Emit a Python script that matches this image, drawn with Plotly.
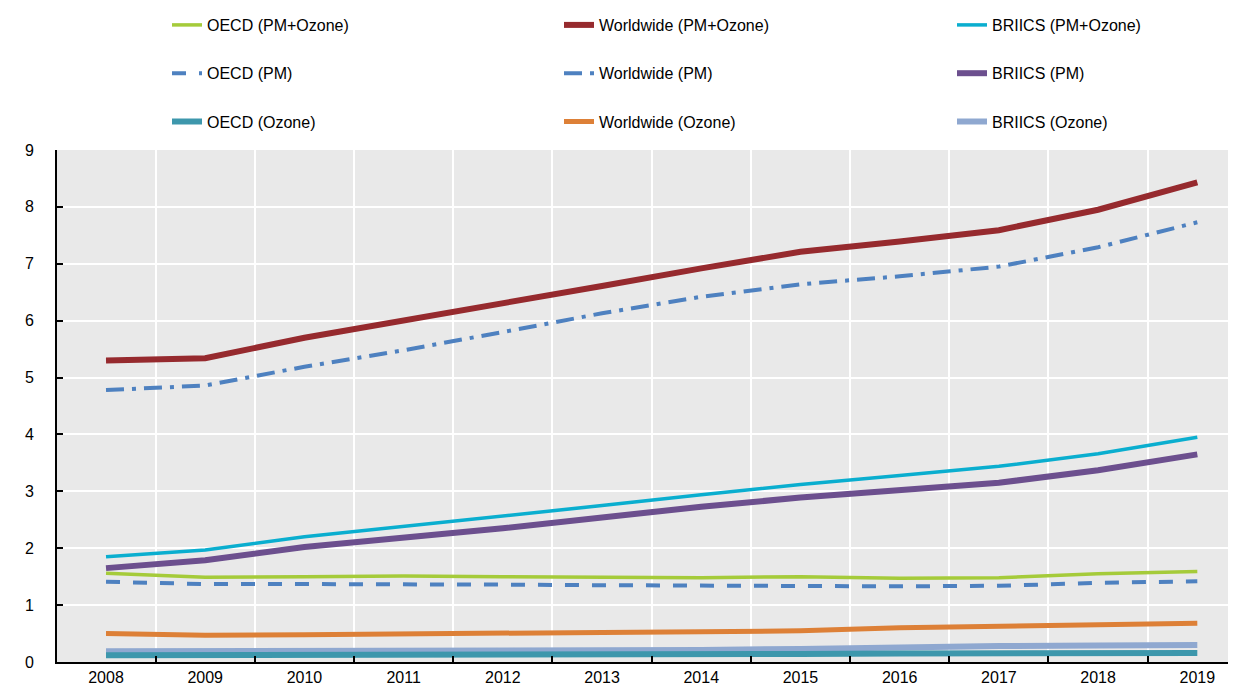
import plotly.graph_objects as go

years = ["2008", "2009", "2010", "2011", "2012", "2013", "2014", "2015", "2016", "2017", "2018", "2019"]

oecd_pm_ozone = [1.56, 1.49, 1.50, 1.51, 1.50, 1.49, 1.48, 1.50, 1.47, 1.48, 1.55, 1.59]
world_pm_ozone = [5.30, 5.34, 5.70, 6.00, 6.29, 6.61, 6.92, 7.21, 7.39, 7.59, 7.95, 8.43]
briics_pm_ozone = [1.85, 1.97, 2.20, 2.38, 2.56, 2.75, 2.94, 3.12, 3.28, 3.44, 3.66, 3.95]
oecd_pm = [1.41, 1.37, 1.37, 1.37, 1.36, 1.35, 1.34, 1.34, 1.33, 1.34, 1.39, 1.42]
world_pm = [4.78, 4.86, 5.19, 5.48, 5.80, 6.13, 6.42, 6.64, 6.78, 6.95, 7.29, 7.73]
briics_pm = [1.65, 1.79, 2.02, 2.18, 2.35, 2.54, 2.73, 2.89, 3.02, 3.15, 3.37, 3.65]
oecd_ozone = [0.12, 0.12, 0.12, 0.13, 0.13, 0.13, 0.13, 0.14, 0.15, 0.15, 0.16, 0.16]
world_ozone = [0.50, 0.47, 0.48, 0.50, 0.51, 0.52, 0.53, 0.55, 0.60, 0.63, 0.65, 0.68]
briics_ozone = [0.19, 0.19, 0.20, 0.20, 0.20, 0.21, 0.21, 0.23, 0.26, 0.28, 0.29, 0.30]

x = list(range(len(years)))

# name, values, colour, width, dash, legend column, row
series = [
    ("OECD (PM+Ozone)", oecd_pm_ozone, "#A5CB3A", 3.5, "solid", "legend", 0),
    ("Worldwide (PM+Ozone)", world_pm_ozone, "#962A2E", 6, "solid", "legend2", 0),
    ("BRIICS (PM+Ozone)", briics_pm_ozone, "#0AAECF", 3.5, "solid", "legend3", 0),
    ("OECD (PM)", oecd_pm, "#4E81C0", 4, "14px,13px", "legend", 1),
    ("Worldwide (PM)", world_pm, "#4E81C0", 4, "18px,8px,4px,8px", "legend2", 1),
    ("BRIICS (PM)", briics_pm, "#6C4F8E", 6, "solid", "legend3", 1),
    ("OECD (Ozone)", oecd_ozone, "#3D97AC", 6, "solid", "legend", 2),
    ("Worldwide (Ozone)", world_ozone, "#DD8037", 5, "solid", "legend2", 2),
    ("BRIICS (Ozone)", briics_ozone, "#8FA8D0", 6, "solid", "legend3", 2),
]

fig = go.Figure()
draw_order = [8, 6, 7, 3, 0, 5, 2, 4, 1]
for i in draw_order:
    name, vals, color, w, dash, lg, row = series[i]
    fig.add_trace(go.Scatter(
        x=x, y=vals, mode="lines", name=name,
        line=dict(color=color, width=w, dash=dash),
        legend=lg, legendgroup=name, legendrank=row + 1,
    ))

# page body has an 8px margin, so the figure is offset by 8px
W, H = 1228, 679
ml, mr, mt, mb = 49, 0, 142, 25

def leg(px_left):
    return dict(
        orientation="v", xref="container", x=px_left / W, xanchor="left",
        yref="container", y=1.0, yanchor="top",
        tracegroupgap=24.5,
        font=dict(family="Liberation Sans, Arial, sans-serif", size=16, color="#000"),
        bgcolor="rgba(0,0,0,0)", traceorder="grouped",
    )

fig.update_layout(
    width=W, height=H,
    margin=dict(l=ml, r=mr, t=mt, b=mb, autoexpand=False),
    paper_bgcolor="white", plot_bgcolor="#E9E9E9",
    font=dict(family="Liberation Sans, Arial, sans-serif", size=16, color="#000"),
    legend=leg(159), legend2=leg(551), legend3=leg(944),
    xaxis=dict(
        range=[-0.494, 11.39], tickvals=x, ticktext=years, ticks="",
        showgrid=False, zeroline=False,
        showline=True, linecolor="#000", linewidth=2,
        ticklabelstandoff=0,
        minor=dict(tickvals=[v + 0.5 for v in x[:-1]], ticks="inside", ticklen=6,
                   tickwidth=2, tickcolor="#000", showgrid=True, gridcolor="white", gridwidth=2),
        tickfont=dict(size=16),
    ),
    yaxis=dict(
        range=[0, 9], tickvals=list(range(10)), ticks="inside", ticklen=6, tickwidth=2,
        tickcolor="#000", showgrid=True, gridcolor="white", gridwidth=2, zeroline=False,
        showline=True, linecolor="#000", linewidth=2, ticklabelstandoff=18,
        tickfont=dict(size=16),
    ),
)

fig.write_html("out.html")
